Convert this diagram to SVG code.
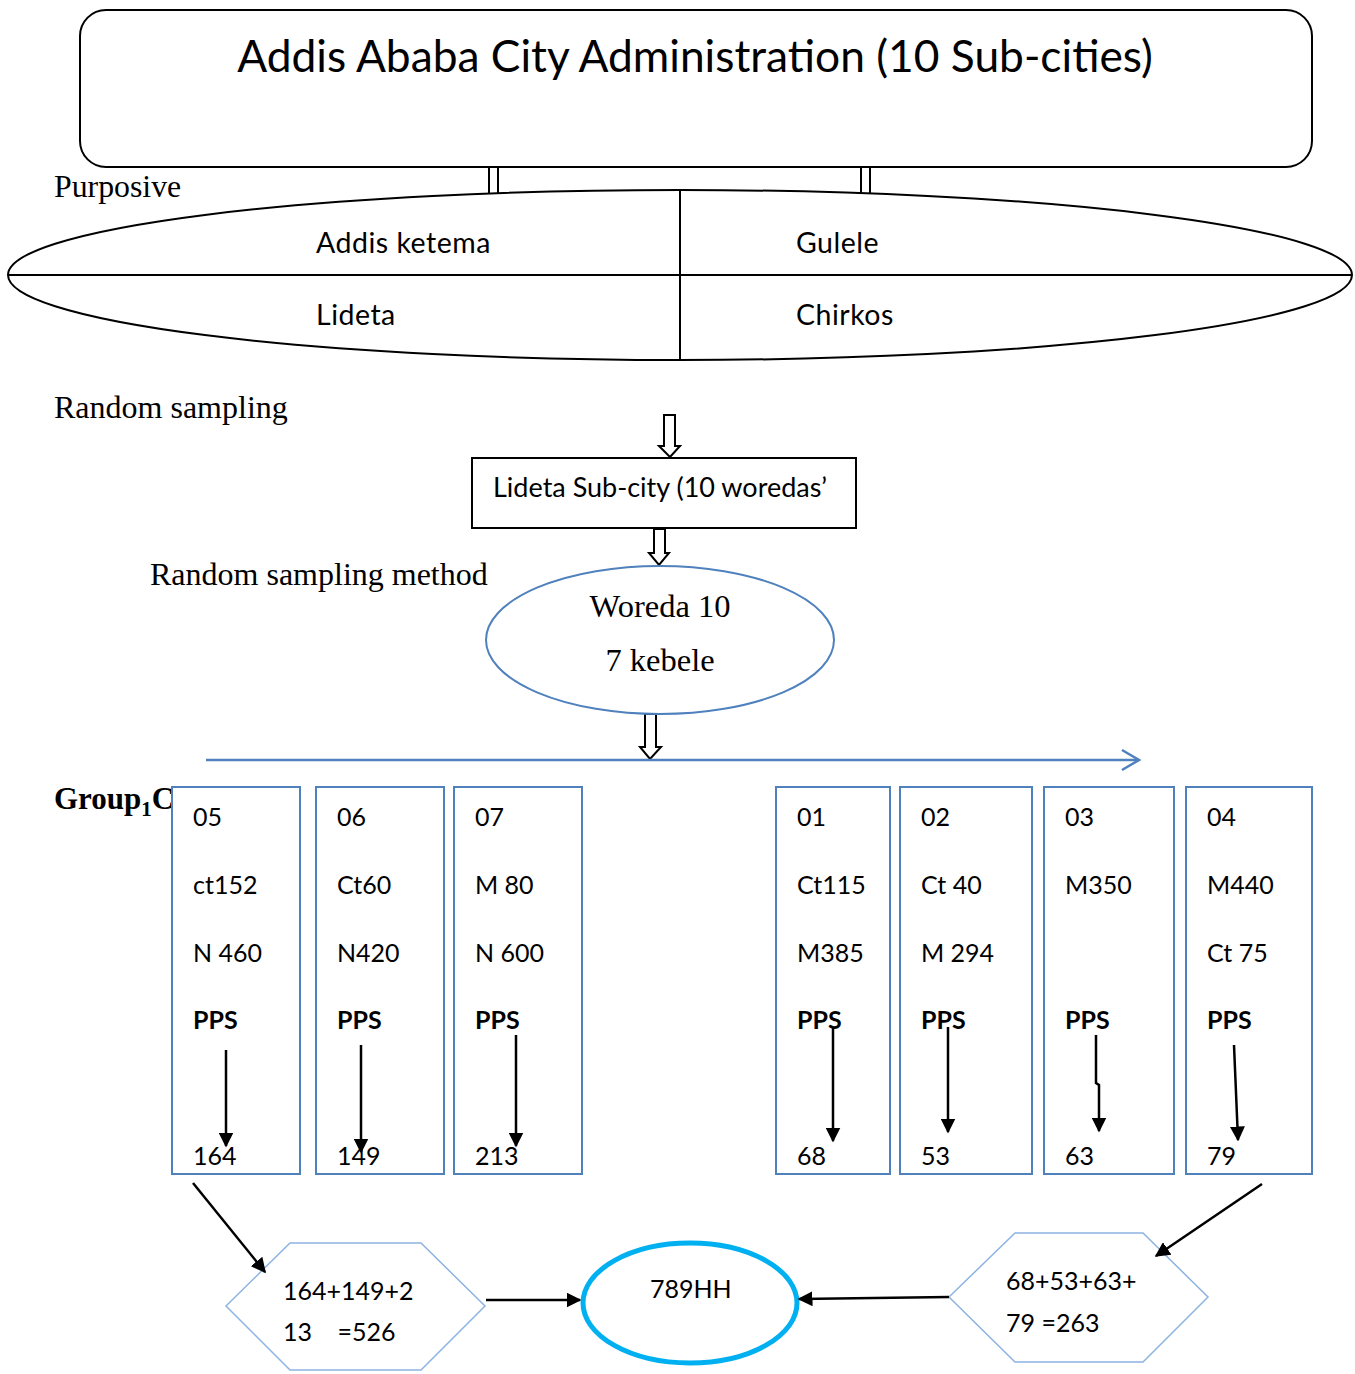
<svg xmlns="http://www.w3.org/2000/svg" width="1355" height="1374" viewBox="0 0 1355 1374">
<style>
.c{font-family:Lato,"Open Sans","Liberation Sans",sans-serif;fill:#000}
.s{font-family:"Liberation Serif","Times New Roman",serif;fill:#000}
.bx{fill:#fff;stroke:#4f81bd;stroke-width:2}
.hx{fill:#fff;stroke:#8db3e2;stroke-width:1.5}
.k{stroke:#000;stroke-width:2.5;fill:none}
.blk{fill:#fff;stroke:#000;stroke-width:2}
</style>
<defs>
<marker id="ah" viewBox="0 0 10 10" refX="9" refY="5" markerWidth="6" markerHeight="6" markerUnits="strokeWidth" orient="auto">
<path d="M0,0 L10,5 L0,10 Z" fill="#000"/>
</marker>
</defs>
<rect width="1355" height="1374" fill="#fff"/>

<g id="top">
<rect x="80" y="10" width="1232" height="157" rx="26" fill="#fff" stroke="#000" stroke-width="2"/>
<text class="c" x="695" y="72" font-size="44.3" text-anchor="middle">Addis Ababa City Administration (10 Sub-cities)</text>
</g>

<g id="links-top" stroke="#000" stroke-width="2">
<line x1="489" y1="167" x2="489" y2="195"/><line x1="498" y1="167" x2="498" y2="195"/>
<line x1="861" y1="167" x2="861" y2="193"/><line x1="870" y1="167" x2="870" y2="193"/>
</g>

<text class="s" x="54" y="197" font-size="31.8">Purposive</text>

<g id="subcities">
<ellipse cx="680" cy="275" rx="672" ry="85" fill="#fff" stroke="#000" stroke-width="2"/>
<line x1="8" y1="275" x2="1352" y2="275" stroke="#000" stroke-width="2"/>
<line x1="680" y1="190" x2="680" y2="360" stroke="#000" stroke-width="2"/>
<text class="c" x="316" y="253" font-size="28.5" letter-spacing="0.5">Addis ketema</text>
<text class="c" x="796" y="253" font-size="28.5" letter-spacing="0.5">Gulele</text>
<text class="c" x="316" y="325" font-size="28.5" letter-spacing="0.5">Lideta</text>
<text class="c" x="796" y="325" font-size="28.5" letter-spacing="0.5">Chirkos</text>
</g>

<text class="s" x="54" y="418" font-size="32">Random sampling</text>

<g id="blockarrows">
<path class="blk" d="M664,415 H675 V446 H680 L670,457 L659,446 H664 Z"/>
<path class="blk" d="M654,529 H665 V553 H669 L659,565 L649,553 H654 Z"/>
<path class="blk" d="M645,714 H656 V747 H661 L650,759 L640,747 H645 Z"/>
</g>

<g id="lideta">
<rect x="472" y="458" width="384" height="70" fill="#fff" stroke="#000" stroke-width="2"/>
<text class="c" x="493" y="497" font-size="27">Lideta Sub-city (10 woredas’</text>
</g>

<text class="s" x="150" y="585" font-size="32">Random sampling method</text>

<g id="woreda">
<ellipse cx="660" cy="640" rx="174" ry="74" fill="#fff" stroke="#4f81bd" stroke-width="2"/>
<text class="s" x="660" y="617" font-size="32.5" text-anchor="middle">Woreda 10</text>
<text class="s" x="660" y="671" font-size="32.5" text-anchor="middle">7 kebele</text>
</g>

<g id="blueline" stroke="#4f81bd" stroke-width="2.5" fill="none">
<line x1="206" y1="760" x2="1139" y2="760"/>
<polyline points="1122,750 1139,760 1122,770"/>
</g>

<text class="s" x="54" y="809" font-size="31" font-weight="bold">Group<tspan font-size="21" dy="7">1</tspan><tspan dy="-7">C</tspan></text>

<g id="box05"><rect class="bx" x="172" y="787" width="128" height="387"/>
<text class="c" font-size="25" x="193"><tspan y="826">05</tspan><tspan x="193" y="894">ct152</tspan><tspan x="193" y="962">N 460</tspan><tspan x="193" y="1029" font-weight="bold">PPS</tspan><tspan x="193" y="1165">164</tspan></text></g>
<g id="box06"><rect class="bx" x="316" y="787" width="128" height="387"/>
<text class="c" font-size="25" x="337"><tspan y="826">06</tspan><tspan x="337" y="894">Ct60</tspan><tspan x="337" y="962">N420</tspan><tspan x="337" y="1029" font-weight="bold">PPS</tspan><tspan x="337" y="1165">149</tspan></text></g>
<g id="box07"><rect class="bx" x="454" y="787" width="128" height="387"/>
<text class="c" font-size="25" x="475"><tspan y="826">07</tspan><tspan x="475" y="894">M 80</tspan><tspan x="475" y="962">N 600</tspan><tspan x="475" y="1029" font-weight="bold">PPS</tspan><tspan x="475" y="1165">213</tspan></text></g>
<g id="box01"><rect class="bx" x="776" y="787" width="114" height="387"/>
<text class="c" font-size="25" x="797"><tspan y="826">01</tspan><tspan x="797" y="894">Ct115</tspan><tspan x="797" y="962">M385</tspan><tspan x="797" y="1029" font-weight="bold">PPS</tspan><tspan x="797" y="1165">68</tspan></text></g>
<g id="box02"><rect class="bx" x="900" y="787" width="132" height="387"/>
<text class="c" font-size="25" x="921"><tspan y="826">02</tspan><tspan x="921" y="894">Ct 40</tspan><tspan x="921" y="962">M 294</tspan><tspan x="921" y="1029" font-weight="bold">PPS</tspan><tspan x="921" y="1165">53</tspan></text></g>
<g id="box03"><rect class="bx" x="1044" y="787" width="130" height="387"/>
<text class="c" font-size="25" x="1065"><tspan y="826">03</tspan><tspan x="1065" y="894">M350</tspan><tspan x="1065" y="1029" font-weight="bold">PPS</tspan><tspan x="1065" y="1165">63</tspan></text></g>
<g id="box04"><rect class="bx" x="1186" y="787" width="126" height="387"/>
<text class="c" font-size="25" x="1207"><tspan y="826">04</tspan><tspan x="1207" y="894">M440</tspan><tspan x="1207" y="962">Ct 75</tspan><tspan x="1207" y="1029" font-weight="bold">PPS</tspan><tspan x="1207" y="1165">79</tspan></text></g>

<g id="hexL">
<polygon class="hx" points="226,1306 290,1243 421,1243 485,1306 421,1370 290,1370"/>
<text class="c" x="283" y="1300" font-size="25">164+149+2</text>
<text class="c" x="283" y="1341" font-size="25" xml:space="preserve">13    =526</text>
</g>

<g id="total">
<ellipse cx="690" cy="1303" rx="107" ry="60" fill="#fff" stroke="#00b0f0" stroke-width="5"/>
<text class="c" x="650" y="1298" font-size="25">789HH</text>
</g>

<g id="hexR">
<polygon class="hx" points="949,1297 1015,1233 1143,1233 1208,1297 1143,1362 1015,1362"/>
<text class="c" x="1006" y="1290" font-size="25">68+53+63+</text>
<text class="c" x="1006" y="1332" font-size="25">79 =263</text>
</g>

<g id="connectors" class="k">
<line class="k" x1="226" y1="1050" x2="226" y2="1146" marker-end="url(#ah)"/>
<line class="k" x1="361" y1="1045" x2="361" y2="1152" marker-end="url(#ah)"/>
<line class="k" x1="516" y1="1035" x2="516" y2="1146" marker-end="url(#ah)"/>
<line class="k" x1="833" y1="1027" x2="833" y2="1141" marker-end="url(#ah)"/>
<line class="k" x1="948" y1="1027" x2="948" y2="1132" marker-end="url(#ah)"/>
<polyline class="k" points="1096,1035 1096,1083 1099,1085 1099,1131" marker-end="url(#ah)"/>
<line class="k" x1="1234" y1="1045" x2="1238" y2="1140" marker-end="url(#ah)"/>
<line class="k" x1="193" y1="1183" x2="265" y2="1272" marker-end="url(#ah)"/>
<line class="k" x1="486" y1="1300" x2="580" y2="1300" marker-end="url(#ah)"/>
<line class="k" x1="949" y1="1297" x2="799" y2="1299" marker-end="url(#ah)"/>
<line class="k" x1="1262" y1="1184" x2="1156" y2="1256" marker-end="url(#ah)"/>
</g>
</svg>
